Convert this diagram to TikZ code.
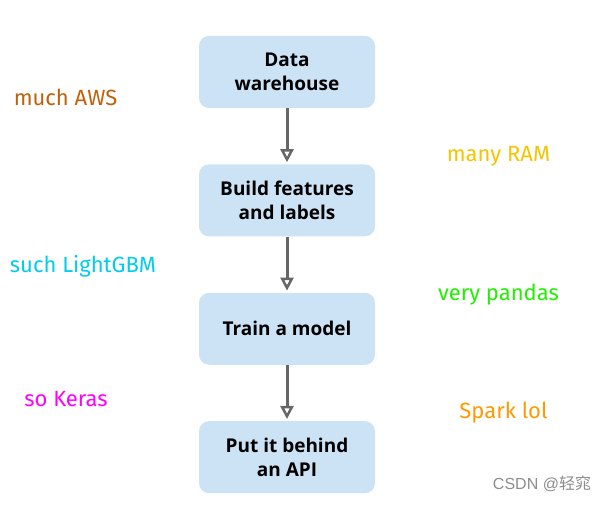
\documentclass[tikz,border=0pt]{standalone}
\usepackage{fontspec}
\setmainfont{Open Sans}
\newfontfamily\doodlefont{Fira Sans}
\newfontfamily\markfont{Liberation Sans}
\newfontfamily\cjk{Noto Sans CJK SC}
\usepackage{xcolor}
\usetikzlibrary{arrows.meta, positioning}
\definecolor{stepfill}{HTML}{CCE3F5}
\definecolor{flowgray}{HTML}{666666}
\definecolor{awscol}{HTML}{C0600A}
\definecolor{ramcol}{HTML}{F5C400}
\definecolor{gbmcol}{HTML}{00CCEE}
\definecolor{pandacol}{HTML}{22F000}
\definecolor{kerascol}{HTML}{FF00FF}
\definecolor{sparkcol}{HTML}{FF9900}

\begin{document}
\begin{tikzpicture}[
  x=1pt, y=1pt,
  node distance=56pt,
  stepbox/.style={rectangle, rounded corners=10pt, fill=stepfill, minimum width=176pt, minimum height=72pt, align=center, font=\fontsize{19}{24}\selectfont\bfseries},
  flow/.style={draw=flowgray, line width=3pt, -{Triangle[open, length=13pt, width=13pt, line width=2.5pt]}, shorten >=2pt},
  doodle/.style={anchor=base, font=\doodlefont\fontsize{22}{26}\selectfont}
]
  \useasboundingbox (0,0) rectangle (613,505);
  \node[stepbox] (warehouse) at (287,433) {Data\\warehouse};
  \node[stepbox, below=of warehouse] (features) {Build features\\and labels};
  \node[stepbox, below=of features] (train) {Train a model};
  \node[stepbox, below=of train] (api) {Put it behind\\an API};
  \draw[flow] (warehouse) -- (features);
  \draw[flow] (features) -- (train);
  \draw[flow] (train) -- (api);
  % side remarks
  \node[doodle, text=awscol] (aws) at (65.5,399) {much AWS};
  \node[doodle, text=ramcol] (ram) at (498.5,343) {many RAM};
  \node[doodle, text=gbmcol] (gbm) at (83,232) {such LightGBM};
  \node[doodle, text=pandacol] (pandas) at (498.5,204) {very pandas};
  \node[doodle, text=kerascol] (keras) at (66,98) {so Keras};
  \node[doodle, text=sparkcol] (spark) at (503.5,86) {Spark lol};
  \node[anchor=base, text=black!45, font=\markfont\fontsize{16}{18}\selectfont] (mark) at (542,15) {CSDN @{\cjk 轻窕}};
\end{tikzpicture}
\end{document}
